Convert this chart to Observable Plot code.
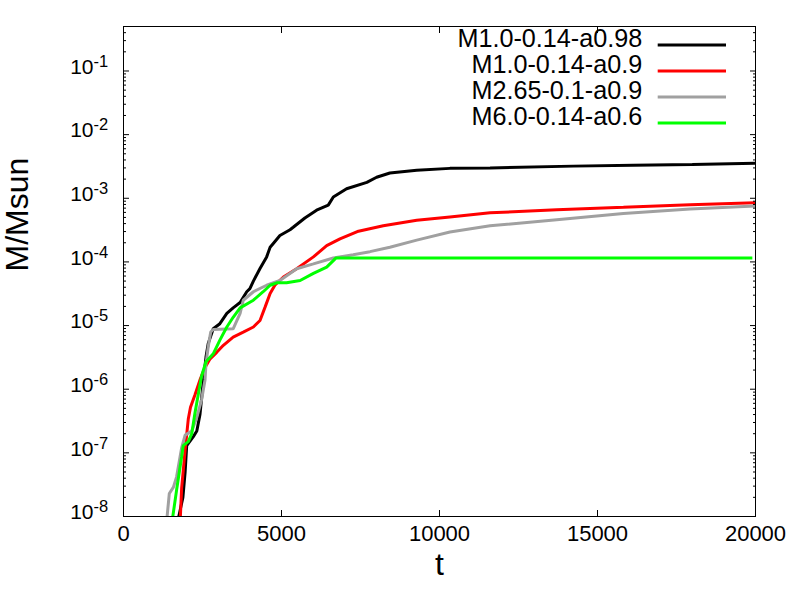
<!DOCTYPE html>
<html>
<head>
<meta charset="utf-8">
<script src="https://cdn.jsdelivr.net/npm/d3@7"></script>
<script src="https://cdn.jsdelivr.net/npm/@observablehq/plot@0.6"></script>
<style>
  html, body { margin: 0; padding: 0; background: #fff; }
  #chart { width: 800px; height: 600px; }
</style>
</head>
<body>
<div id="chart"></div>
<script>
const FONT = '"Liberation Sans", Arial, Helvetica, sans-serif';

// ---- series names / colours ----
const seriesNames = ["M1.0-0.14-a0.98", "M1.0-0.14-a0.9", "M2.65-0.1-a0.9", "M6.0-0.14-a0.6"];
const seriesColors = ["#000000", "#ff0000", "#a0a0a0", "#00ff00"];

// ---- M1.0-0.14-a0.98 (black) ----
const tBlack = [1750, 1880, 1950, 2000, 2210, 2320, 2420, 2530, 2610, 2680, 2840, 3050, 3270, 3470, 3690, 3900, 4000, 4110, 4320, 4530, 4640, 4740, 4950, 5270, 5370, 5740, 6110, 6480, 6640, 7060, 7700, 8010, 8430, 9280, 10330, 11600, 14230, 16130, 18000, 20000];
const mBlack = [1.0e-8, 2.0e-8, 5.0e-8, 1.3e-7, 1.8e-7, 2.2e-7, 4.0e-7, 1.4e-6, 3.2e-6, 5.2e-6, 8.9e-6, 1.07e-5, 1.55e-5, 1.9e-5, 2.3e-5, 3.4e-5, 3.8e-5, 5.0e-5, 7.9e-5, 1.2e-4, 1.7e-4, 1.95e-4, 2.6e-4, 3.2e-4, 3.5e-4, 4.9e-4, 6.5e-4, 7.8e-4, 1.05e-3, 1.41e-3, 1.78e-3, 2.14e-3, 2.5e-3, 2.75e-3, 2.95e-3, 3.0e-3, 3.2e-3, 3.3e-3, 3.4e-3, 3.55e-3];

// ---- M1.0-0.14-a0.9 (red) ----
const tRed = [1800, 1840, 1950, 2050, 2120, 2260, 2420, 2580, 2740, 2950, 3160, 3470, 3790, 4110, 4320, 4480, 4640, 4790, 5060, 5480, 6010, 6430, 6850, 7400, 8220, 9280, 10330, 11600, 13710, 15820, 17930, 20000];
const mRed = [1.0e-8, 2.8e-8, 1.1e-7, 3.4e-7, 5.2e-7, 8.1e-7, 1.4e-6, 2.2e-6, 3.0e-6, 3.8e-6, 4.9e-6, 6.6e-6, 7.9e-6, 9.5e-6, 1.2e-5, 1.95e-5, 3.2e-5, 4.3e-5, 5.8e-5, 7.8e-5, 1.2e-4, 1.8e-4, 2.3e-4, 3.0e-4, 3.7e-4, 4.5e-4, 5.1e-4, 5.9e-4, 6.6e-4, 7.2e-4, 7.9e-4, 8.5e-4];

// ---- M2.65-0.1-a0.9 (gray) ----
const tGray = [1380, 1450, 1580, 1680, 1840, 1950, 2160, 2320, 2470, 2580, 2610, 2680, 2760, 2840, 3470, 3690, 3790, 4110, 4530, 4950, 5480, 6010, 6640, 7270, 7800, 8430, 9280, 10330, 11600, 13710, 15820, 17930, 20000];
const mGray = [1.0e-8, 2.3e-8, 2.9e-8, 4.2e-8, 1.2e-7, 1.9e-7, 2.2e-7, 3.6e-7, 6.8e-7, 1.4e-6, 2.5e-6, 4.6e-6, 7.9e-6, 8.7e-6, 8.9e-6, 1.55e-5, 2.5e-5, 3.4e-5, 4.3e-5, 5.1e-5, 7.8e-5, 9.3e-5, 1.15e-4, 1.3e-4, 1.45e-4, 1.7e-4, 2.2e-4, 2.95e-4, 3.7e-4, 4.6e-4, 5.75e-4, 6.8e-4, 7.6e-4];

// ---- M6.0-0.14-a0.6 (green) ----
const tGreen = [1560, 1680, 1840, 1890, 2050, 2160, 2260, 2370, 2470, 2610, 2840, 3050, 3270, 3470, 3690, 4110, 4420, 4640, 4850, 5160, 5590, 6010, 6430, 6720, 19900];
const mGreen = [1.0e-8, 2.6e-8, 8.7e-8, 1.3e-7, 1.5e-7, 2.0e-7, 4.2e-7, 8.5e-7, 1.6e-6, 2.7e-6, 3.6e-6, 5.9e-6, 9.5e-6, 1.35e-5, 1.9e-5, 2.5e-5, 3.4e-5, 4.3e-5, 4.7e-5, 4.7e-5, 5.1e-5, 6.6e-5, 8.3e-5, 1.15e-4, 1.15e-4];

// ---- axes ----
const xTicks = [0, 5000, 10000, 15000, 20000];
const xTickLabels = ["0", "5000", "10000", "15000", "20000"];
const yDecades = [1e-8, 1e-7, 1e-6, 1e-5, 1e-4, 1e-3, 1e-2, 1e-1];
const yExponents = ["-8", "-7", "-6", "-5", "-4", "-3", "-2", "-1"];
const yMinorMult = [2, 3, 4, 5, 6, 7, 8, 9];
const yMinor = yDecades.flatMap(d => yMinorMult.map(k => k * d)).filter(v => v < 0.5);
const xLabel = "t";
const yLabel = "M/Msun";

const tSeries = [tBlack, tRed, tGray, tGreen];
const mSeries = [mBlack, mRed, mGray, mGreen];
const tables = tSeries.map((ts, s) => ts.map((t, i) => ({t, m: mSeries[s][i]})));

const lineMarks = tables.map((rows, s) =>
  Plot.line(rows, {x: "t", y: "m", stroke: seriesColors[s], strokeWidth: 3, clip: true, strokeLinejoin: "miter", strokeLinecap: "butt"})
);

const plot = Plot.plot({
  width: 800,
  height: 600,
  marginLeft: 123,
  marginRight: 45,
  marginTop: 26,
  marginBottom: 84,
  style: {fontFamily: FONT, background: "white", color: "black"},
  x: {domain: [0, 20000], axis: null},
  y: {type: "log", domain: [1e-8, 0.5], axis: null},
  marks: [
    ...lineMarks,
    Plot.frame({stroke: "black", strokeWidth: 1}),
    Plot.axisY(yDecades, {anchor: "left", tickSize: 6, dx: 6, fill: "none", label: null}),
    Plot.axisY(yMinor, {anchor: "left", tickSize: 3, dx: 3, fill: "none", label: null}),
    Plot.axisY(yDecades, {anchor: "right", tickSize: 6, dx: -6, fill: "none", label: null}),
    Plot.axisY(yMinor, {anchor: "right", tickSize: 3, dx: -3, fill: "none", label: null}),
    Plot.axisX(xTicks, {anchor: "bottom", tickSize: 6, dy: -6, fill: "none", label: null}),
    Plot.axisX(xTicks, {anchor: "top", tickSize: 6, dy: 6, fill: "none", label: null}),
    Plot.text(yDecades, {y: d => d, frameAnchor: "left", text: () => "10", textAnchor: "end", dx: -30, dy: -4, fontSize: 21, fill: "black"}),
    Plot.text(yDecades, {y: d => d, frameAnchor: "left", text: (d, i) => yExponents[i], textAnchor: "start", dx: -30, dy: -9.5, fontSize: 16.5, fill: "black"}),
    Plot.text(xTicks, {x: d => d, frameAnchor: "bottom", text: (d, i) => xTickLabels[i], dy: 24, fontSize: 22, fill: "black"}),
    Plot.text([xLabel], {frameAnchor: "bottom", text: d => d, dy: 58.8, fontSize: 32, fill: "black"}),
    Plot.text([yLabel], {frameAnchor: "left", text: d => d, rotate: -90, dx: -106, fontSize: 32, fill: "black"})
  ]
});

document.getElementById("chart").appendChild(plot);

// ---- legend (inside plot, top right) ----
const svg = d3.select(plot);
const lg = svg.append("g").attr("class", "legend").attr("font-family", FONT);
seriesNames.forEach((name, i) => {
  lg.append("text")
    .attr("x", 642.3)
    .attr("y", 47.3 + 26 * i)
    .attr("text-anchor", "end")
    .attr("font-size", 25.2)
    .attr("fill", "black")
    .text(name);
  lg.append("line")
    .attr("x1", 657.7).attr("x2", 726)
    .attr("y1", 45 + 26 * i).attr("y2", 45 + 26 * i)
    .attr("stroke", seriesColors[i])
    .attr("stroke-width", 3);
});
</script>
</body>
</html>
